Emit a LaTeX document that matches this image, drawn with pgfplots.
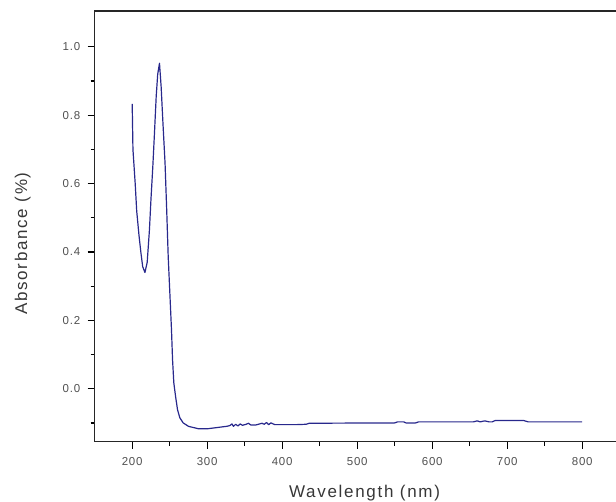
\documentclass[border=0pt]{standalone}
\usepackage{fontspec}
\setmainfont{Liberation Sans}
\newfontfamily\ticksfont[LetterSpace=7]{Liberation Sans}
\newfontfamily\labelfont[LetterSpace=10]{Liberation Sans}
\usepackage{pgfplots}
\pgfplotsset{compat=1.18}

\definecolor{curve}{RGB}{40,40,140}
\definecolor{ticktext}{RGB}{80,80,80}
\definecolor{labeltext}{RGB}{55,55,55}

\begin{document}
\begin{tikzpicture}
\useasboundingbox (-94.7bp,-60.3bp) rectangle (521.3bp,441.7bp);
\begin{axis}[
    at={(0,0)}, anchor=south west,
    scale only axis,
    width=525bp, height=430.7bp,
    xmin=150, xmax=850,
    ymin=-0.155, ymax=1.105,
    xtick={200,300,...,800},
    ytick={0,0.2,...,1.0},
    minor xtick={250,350,...,750},
    minor ytick={-0.1,0.1,0.3,0.5,0.7,0.9},
    xtick pos=bottom, ytick pos=left,
    tick align=outside,
    major tick length=7bp, minor tick length=4bp,
    tick style={line width=1.2bp, black},
    axis line style={line width=1.3bp, black!85},
    /pgf/number format/assume math mode=true,
    /pgf/number format/fixed, /pgf/number format/fixed zerofill,
    yticklabel style={/pgf/number format/precision=1, font=\ticksfont\fontsize{11.5bp}{13bp}\selectfont, text=ticktext, xshift=-4bp},
    xticklabel style={font=\ticksfont\fontsize{11.5bp}{13bp}\selectfont, text=ticktext, yshift=-5bp},
    xticklabel={\pgfmathprintnumber[fixed,precision=0]{\tick}},
    scaled x ticks=false,
    xlabel={Wavelength (nm)},
    ylabel={Absorbance (\%)},
    label style={font=\labelfont\fontsize{17bp}{19bp}\selectfont, text=labeltext},
    xlabel style={at={(rel axis cs:0.514,-0.1306)}, anchor=base},
    ylabel style={at={(rel axis cs:-0.137,0.46)}, anchor=center},
]
\addplot[curve, line width=1.2bp, line join=round] coordinates {
    (200,0.833) (201,0.70) (204,0.60) (206,0.52) (209,0.45) (211.5,0.40)
    (214,0.357) (217,0.34) (220,0.37) (223,0.465) (225,0.553) (227.5,0.65)
    (229.7,0.748) (232,0.855) (234,0.92) (236.4,0.952) (238.6,0.883)
    (241,0.777) (243.8,0.66) (246,0.523) (248,0.387) (250.4,0.27)
    (252.4,0.172) (253.8,0.085) (255.5,0.017) (257.8,-0.022) (260.4,-0.061)
    (263.5,-0.085) (268,-0.10) (275,-0.11) (288,-0.117) (301,-0.117)
    (326,-0.11) (330,-0.108) (333,-0.103) (335,-0.110) (338,-0.104)
    (341,-0.109) (344,-0.103) (347,-0.107) (352,-0.104) (355,-0.101)
    (358,-0.106) (365,-0.106) (370,-0.103) (373,-0.101) (376,-0.104)
    (379,-0.099) (382,-0.105) (385,-0.100) (390,-0.105) (420,-0.105)
    (432,-0.104) (436,-0.101) (550,-0.100) (554,-0.097) (562,-0.097)
    (565,-0.100) (578,-0.100) (582,-0.097) (655,-0.097) (660,-0.094)
    (664,-0.097) (670,-0.094) (676,-0.097) (680,-0.097) (684,-0.093)
    (722,-0.093) (728,-0.097) (800,-0.097)
};
\end{axis}
\end{tikzpicture}
\end{document}
